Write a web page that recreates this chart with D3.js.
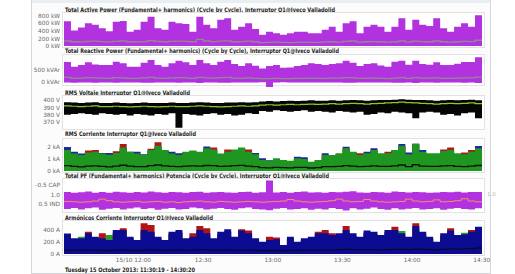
<!DOCTYPE html>
<html>
<head>
<meta charset="utf-8">
<script src="https://cdn.jsdelivr.net/npm/d3@7"></script>
<style>
  body { margin: 0; background: #fff; }
  text { font-family: "DejaVu Sans", Verdana, sans-serif; }
</style>
</head>
<body>
<svg width="515" height="274"></svg>
<script>
// samples every 3 minutes from 11:30:19
const activeMax = [640,400,480,590,550,460,380,630,650,370,420,630,760,460,420,630,590,570,370,760,550,460,680,720,420,500,590,440,290,370,330,290,330,370,370,330,330,420,500,370,590,640,330,500,550,500,370,500,720,420,680,550,520,720,460,370,500,590,500,800];
const activeAvg = [130,110,105,120,125,115,105,120,130,110,105,115,140,120,110,120,125,120,110,170,130,115,125,135,110,115,125,110,90,95,100,95,90,95,100,95,95,105,110,100,120,130,100,110,115,110,100,110,130,105,125,115,110,130,110,100,110,120,115,150];

const reactiveMax = [800,608,677,790,705,677,677,816,747,608,608,775,886,677,608,747,858,790,677,886,747,677,816,886,720,635,747,650,538,635,677,565,580,635,677,747,720,677,720,747,858,775,635,720,747,663,608,816,858,690,858,720,690,790,677,677,733,800,800,1000];
const reactiveMin = [-50,-60,-45,-55,-60,-50,-45,-60,-55,-50,-45,-60,-65,-50,-45,-55,-60,-50,-45,-70,-55,-50,-60,-65,-50,-45,-55,-50,-40,-260,-45,-40,-50,-45,-50,-55,-50,-45,-55,-50,-65,-60,-45,-55,-50,-55,-45,-60,-65,-50,-70,-55,-50,-65,-50,-45,-55,-60,-55,-70];
const reactiveAvg = [160,120,130,150,140,130,125,150,145,120,120,140,160,130,120,140,150,140,125,165,140,130,150,160,130,125,140,125,110,115,120,110,115,120,125,130,125,120,130,130,150,140,120,130,135,125,115,135,150,125,150,135,130,145,125,120,130,140,140,170];

const voltMax = [397,396.5,396,396.5,397,396,396,396.5,396,395.5,396,396.5,396,396,396,396.5,396,396,396.5,397,396.5,396,396,396.5,396.5,397,396.5,397,398,398.5,398,398.5,399,398.5,399,399.5,399,399,399.5,399,399.5,400,399.5,399,399.5,400,400,400.5,401,400.5,400,400,399.5,399,399.5,400,399.5,400,400.5,399.5];
const voltMin = [380,381,382,381,380,382,381,380,381,379,381,380,379,381,380,382,362,381,380,379,381,382,380,381,379,380,382,381,385,384,386,385,384,385,386,384,385,384,383,385,384,383,384,380,381,383,382,384,383,382,375,383,384,383,380,381,379,382,383,375];
const voltAvg = [392,391.5,391,391.5,392,391,391,391.5,391,390.5,391,391.5,391,390.5,391,391.5,391,391,391.5,392,391.5,391,390.5,391,391.5,392,391.5,392,393,393.5,393,393.5,394,393.5,394,394.5,394,394.5,395,394.5,395,395.5,395,394.5,395,395.5,396,396.5,397,396.5,396,395.5,395,394.5,395,395.5,395,395.5,396,395];

const currL1 = [1.7,1.4,1.3,1.7,1.75,1.4,1.3,1.65,2.25,1.6,1.4,1.3,1.85,2.4,1.7,1.4,1.3,1.55,1.65,1.5,1.85,1.95,1.4,1.8,1.75,1.9,1.8,1.35,0.88,0.82,1.0,0.88,0.8,1.0,0.95,0.74,0.88,1.3,1.28,1.42,1.85,1.55,1.47,1.42,1.7,1.42,1.61,1.7,2.05,1.35,2.2,1.55,1.42,1.42,1.8,1.95,1.42,1.55,1.75,1.85];
const currL2 = [2.0,1.6,1.45,1.5,1.55,1.5,1.5,1.5,1.9,1.55,1.6,1.4,1.7,2.0,1.7,1.6,1.47,1.55,1.65,1.55,2.05,1.75,1.4,1.55,1.75,1.9,1.55,1.5,1.06,0.9,1.0,0.88,0.8,1.19,1.15,0.75,0.88,1.47,1.3,1.4,2.03,1.55,1.28,1.6,1.89,1.42,1.4,1.7,2.24,1.55,2.25,1.75,1.42,1.42,1.6,1.7,1.42,1.35,1.55,2.08];
const currL3 = [1.75,1.45,1.33,1.55,1.6,1.45,1.35,1.5,1.95,1.6,1.45,1.35,1.75,2.1,1.75,1.45,1.33,1.6,1.7,1.6,1.9,1.8,1.45,1.6,1.8,1.95,1.6,1.4,0.92,0.85,1.06,0.92,0.85,1.06,1.0,0.78,0.92,1.33,1.33,1.47,1.89,1.61,1.33,1.47,1.75,1.47,1.47,1.75,2.1,1.4,2.3,1.61,1.47,1.47,1.66,1.75,1.47,1.4,1.61,1.89];
const currN = [0.45,0.38,0.35,0.4,0.42,0.38,0.35,0.4,0.48,0.4,0.37,0.36,0.45,0.5,0.42,0.38,0.36,0.4,0.42,0.4,0.46,0.44,0.38,0.4,0.44,0.47,0.4,0.36,0.28,0.26,0.3,0.28,0.26,0.3,0.3,0.25,0.28,0.36,0.36,0.38,0.45,0.4,0.36,0.38,0.42,0.38,0.38,0.42,0.5,0.36,0.52,0.4,0.38,0.38,0.42,0.44,0.38,0.36,0.4,0.46];

// power factor: positive = capacitive, negative = inductive (0 = 1.0)
const pfMax = [0.12,0.08,0.1,0.14,0.07,0.11,0.08,0.13,0.1,0.07,0.12,0.09,0.14,0.1,0.08,0.12,0.1,0.07,0.11,0.13,0.08,0.1,0.12,0.09,0.07,0.11,0.13,0.08,0.1,0.72,0.09,0.12,0.08,0.11,0.14,0.09,0.1,0.07,0.12,0.1,0.13,0.15,0.09,0.08,0.12,0.1,0.08,0.14,0.11,0.09,0.12,0.1,0.07,0.09,0.12,0.1,0.13,0.09,0.11,0.12];
const pfMin = [-0.78,-0.72,-0.8,-0.74,-0.7,-0.82,-0.76,-0.72,-0.8,-0.75,-0.7,-0.78,-0.74,-0.82,-0.76,-0.72,-0.8,-0.78,-0.7,-0.74,-0.8,-0.76,-0.72,-0.78,-0.82,-0.74,-0.7,-0.78,-0.8,-0.84,-0.76,-0.72,-0.8,-0.78,-0.74,-0.82,-0.76,-0.8,-0.72,-0.78,-0.86,-0.74,-0.8,-0.76,-0.7,-0.78,-0.82,-0.74,-0.8,-0.76,-0.72,-0.8,-0.78,-0.74,-0.82,-0.76,-0.72,-0.78,-0.8,-0.74];
const pfAvg = [-0.38,-0.4,-0.42,-0.4,-0.36,-0.26,-0.34,-0.4,-0.42,-0.4,-0.38,-0.42,-0.4,-0.38,-0.42,-0.4,-0.44,-0.4,-0.38,-0.36,-0.4,-0.42,-0.38,-0.4,-0.42,-0.4,-0.38,-0.4,-0.42,-0.4,-0.38,-0.36,-0.28,-0.36,-0.4,-0.42,-0.4,-0.38,-0.34,-0.26,-0.36,-0.4,-0.38,-0.28,-0.36,-0.4,-0.42,-0.4,-0.38,-0.26,-0.36,-0.4,-0.38,-0.3,-0.4,-0.38,-0.34,-0.24,-0.36,-0.4];

const harmL1 = [300,230,230,372,250,344,200,360,428,250,200,511,483,250,200,330,360,230,344,467,428,230,330,370,250,411,390,230,180,289,275,130,250,180,230,250,372,400,344,300,467,300,250,350,330,280,360,456,300,250,511,330,250,180,300,428,280,290,400,420];
const harmL2 = [340,261,261,344,289,261,233,400,400,289,233,400,372,289,233,372,400,261,289,400,344,261,372,411,289,390,344,261,206,233,244,150,289,206,261,289,344,344,317,344,400,344,289,390,372,317,400,400,344,289,467,372,289,206,344,390,317,328,372,456];
const harmL3 = [300,230,289,300,250,230,317,350,360,250,200,360,330,250,200,330,350,230,250,360,300,230,330,370,250,350,300,230,180,200,210,130,250,180,230,250,300,300,280,300,350,300,250,350,330,280,360,360,383,250,420,330,250,180,300,350,280,355,330,420];
const harmN = [60,65,62,68,64,60,58,66,70,62,58,66,72,64,60,66,70,62,64,72,68,60,66,70,62,64,68,62,55,58,60,56,60,62,64,66,68,70,68,72,76,72,68,74,72,70,74,78,76,72,82,78,74,70,78,84,82,86,90,100];

const xTicks = ["15/10 12:00", "12:30", "13:00", "13:30", "14:00", "14:30"];

const t0 = new Date(2013, 9, 15, 11, 30, 19);
const t1 = new Date(2013, 9, 15, 14, 30, 20);

const svg = d3.select("svg");
const x = d3.scaleTime().domain([t0, t1]).range([64, 482]);

// outer panel
svg.append("rect").attr("x", 31.5).attr("y", -1).attr("width", 459).attr("height", 274.5)
  .attr("fill", "#fcfcfc").attr("stroke", "#d4d8dc");
svg.append("rect").attr("x", 32).attr("y", 0).attr("width", 458).attr("height", 3).attr("fill", "#e9eef3");

// build points, last value held until end time
const pts = (...arrs) => {
  const p = arrs[0].map((v, i) => ({ t: d3.timeMinute.offset(t0, 3 * i), v: arrs.map((a) => a[i]) }));
  p.push({ t: t1, v: arrs.map((a) => a[a.length - 1]) });
  return p;
};

const panels = [
  { title: "Total Active Power  (Fundamental+ harmonics) (Cycle by Cycle), Interruptor Q1@Iveco Valladolid",
    tw: 270, ty: 11.6, top: 13, bottom: 47, domain: [0, 800], range: [46, 15.2],
    ticks: [0, 200, 400, 600, 800], fmt: (d) => d + " kW" },
  { title: "Total Reactive Power (Fundamental+ harmonics) (Cycle by Cycle), Interruptor Q1@Iveco Valladolid",
    tw: 274, ty: 53, top: 55, bottom: 85, domain: [0, 500], range: [81.3, 69.3],
    ticks: [0, 500], fmt: (d) => d + " kVAr" },
  { title: "RMS Voltaje Interruptor Q1@Iveco Valladolid",
    tw: 125, ty: 94.6, top: 96, bottom: 129, domain: [370, 400], range: [122, 100],
    ticks: [370, 380, 390, 400], fmt: (d) => d + " V" },
  { title: "RMS Corriente Interruptor Q1@Iveco Valladolid",
    tw: 131, ty: 136, top: 139, bottom: 172, domain: [0, 2], range: [171, 147],
    ticks: [0, 1, 2], fmt: (d) => d + " kA" },
  { title: "Total PF (Fundamental+ harmonics) Potencia (Cycle by Cycle), Interruptor Q1@Iveco Valladolid",
    tw: 264, ty: 177.6, top: 179, bottom: 212, domain: [-0.5, 0.5], range: [203.7, 184.7],
    ticks: [-0.5, 0, 0.5], fmt: (d) => (d > 0 ? "-0.5 CAP" : d < 0 ? "0.5 IND" : "1.0") },
  { title: "Armónicos Corriente Interruptor Q1@Iveco Valladolid",
    tw: 148, ty: 219.6, top: 221, bottom: 255, domain: [0, 400], range: [254, 230],
    ticks: [0, 200, 400], fmt: (d) => d + " A" },
];

panels.forEach((p, k) => {
  p.y = d3.scaleLinear().domain(p.domain).range(p.range);
  p.g = svg.append("g");

  p.g.append("text").attr("x", 65).attr("y", p.ty)
    .attr("font-size", 6.2).attr("font-weight", "bold").attr("fill", "#1e1e1e")
    .attr("textLength", p.tw).attr("lengthAdjust", "spacingAndGlyphs")
    .text(p.title);

  p.g.append("rect").attr("x", 62.5).attr("y", p.top - 0.5)
    .attr("width", 422).attr("height", p.bottom - p.top + 1)
    .attr("fill", "#fff").attr("stroke", "#e2e2e2");

  svg.append("clipPath").attr("id", "clip" + k)
    .append("rect").attr("x", 64).attr("y", p.top).attr("width", 418).attr("height", p.bottom - p.top + 2);
  p.plot = p.g.append("g").attr("clip-path", `url(#clip${k})`);

  const axis = d3.axisLeft(p.y).tickValues(p.ticks).tickFormat(p.fmt).tickSize(0).tickPadding(0);
  const ax = p.g.append("g").attr("transform", "translate(60,0)").call(axis);
  ax.select(".domain").remove();
  ax.selectAll("text").attr("font-size", 5.8).attr("fill", "#6a6a6a")
    .style("font-family", '"DejaVu Sans", Verdana, sans-serif');
});

const band = (p, lo, hi) => d3.area().curve(d3.curveStepAfter)
  .x((d) => x(d.t)).y0((d) => p.y(lo(d))).y1((d) => p.y(hi(d)));
const line = (p, f) => d3.line().curve(d3.curveStepAfter).x((d) => x(d.t)).y((d) => p.y(f(d)));

const purple = "#b232e0";

// active power
let p = panels[0];
let data = pts(activeMax, activeAvg);
p.plot.append("path").datum(data).attr("fill", purple).attr("d", band(p, () => 0, (d) => d.v[0]));
p.plot.append("path").datum(data).attr("fill", "none").attr("stroke", "#8c8c8c").attr("stroke-width", 1.3)
  .attr("d", line(p, (d) => d.v[1]));

// reactive power
p = panels[1];
data = pts(reactiveMin, reactiveMax, reactiveAvg);
p.plot.append("path").datum(data).attr("fill", purple).attr("d", band(p, (d) => d.v[0], (d) => d.v[1]));
p.plot.append("path").datum(data).attr("fill", "none").attr("stroke", "#8c8c8c").attr("stroke-width", 1.3)
  .attr("d", line(p, (d) => d.v[2]));

// voltage
p = panels[2];
data = pts(voltMin, voltMax, voltAvg);
p.plot.append("path").datum(data).attr("fill", "#050505").attr("d", band(p, (d) => d.v[0], (d) => d.v[1]));
p.plot.append("path").datum(data).attr("fill", "none").attr("stroke", "#8cc828").attr("stroke-width", 1.2)
  .attr("d", line(p, (d) => d.v[2]));

// current
p = panels[3];
data = pts(currL1, currL2, currL3, currN);
[["#b01818", 0], ["#1c2a9c", 1], ["#1f961f", 2]].forEach(([c, j]) => {
  p.plot.append("path").datum(data).attr("fill", c).attr("d", band(p, () => 0, (d) => d.v[j]));
});
p.plot.append("path").datum(data).attr("fill", "none").attr("stroke", "#101010").attr("stroke-width", 1.3)
  .attr("d", line(p, (d) => d.v[3]));

// power factor
p = panels[4];
data = pts(pfMin, pfMax, pfAvg);
p.plot.append("path").datum(data).attr("fill", purple).attr("d", band(p, (d) => d.v[0], (d) => d.v[1]));
p.plot.append("path").datum(data).attr("fill", "none").attr("stroke", "#f0906e").attr("stroke-width", 1)
  .attr("d", line(p, (d) => d.v[2]));
p.g.append("text").attr("x", 487).attr("y", p.y(0) + 2).attr("font-size", 5.5).attr("fill", "#b8b8b8").text("1.0");

// harmonics
p = panels[5];
data = pts(harmL1, harmL2, harmL3, harmN);
[["#2a9a2a", 2], ["#b01414", 0], ["#0c0c92", 1]].forEach(([c, j]) => {
  p.plot.append("path").datum(data).attr("fill", c).attr("d", band(p, () => 0, (d) => d.v[j]));
});
p.plot.append("path").datum(data).attr("fill", "none").attr("stroke", "#08082a").attr("stroke-width", 1.3)
  .attr("d", line(p, (d) => d.v[3]));

// time axis
const tickTimes = xTicks.map((s, i) => d3.timeMinute.offset(new Date(2013, 9, 15, 12, 0), 30 * i));
const xAxis = d3.axisBottom(x).tickValues(tickTimes).tickFormat((d, i) => xTicks[i]).tickSize(0).tickPadding(0);
const xg = svg.append("g").attr("transform", "translate(0,258)").call(xAxis);
xg.select(".domain").remove();
xg.selectAll("text").attr("font-size", 5.8).attr("fill", "#6a6a6a")
  .style("font-family", '"DejaVu Sans", Verdana, sans-serif');

svg.append("text").attr("x", 65).attr("y", 271.6)
  .attr("font-size", 6.2).attr("font-weight", "bold").attr("fill", "#1e1e1e")
  .attr("textLength", 130).attr("lengthAdjust", "spacingAndGlyphs")
  .text("Tuesday 15 October 2013: 11:30:19 - 14:30:20");
</script>
</body>
</html>
